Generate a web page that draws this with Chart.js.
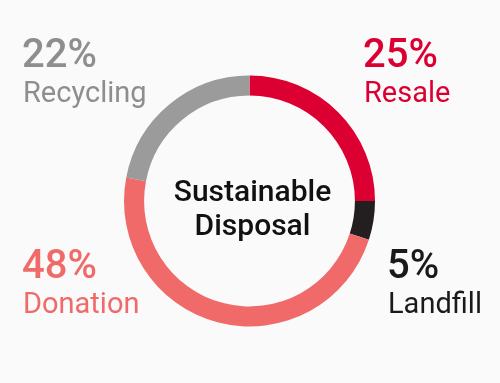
<!DOCTYPE html>
<html>
<head>
<meta charset="utf-8">
<script src="https://cdn.jsdelivr.net/npm/chart.js@4/dist/chart.umd.min.js"></script>
<style>
html,body{margin:0;padding:0;background:#fafafa;}
#wrap{width:500px;height:383px;position:relative;}
</style>
</head>
<body>
<div id="wrap"><canvas id="c" width="500" height="383"></canvas></div>
<script>
const categories = ["Resale", "Landfill", "Donation", "Recycling"];
const values = [25, 5, 48, 22];
const colors = ["#dc0032", "#231f20", "#f06a6a", "#9b9b9b"];
const textColors = ["#dc0032", "#1a1a1a", "#f06a6a", "#8e8e8e"];
const centerTitle = ["Sustainable", "Disposal"];

// label anchors (left x, baseline of percent line) per category
const labelPos = [
  {x: 363, y: 67},
  {x: 387, y: 278},
  {x: 22, y: 278},
  {x: 22, y: 67}
];

const labelPlugin = {
  id: 'labels',
  afterDraw(chart) {
    const ctx = chart.ctx;
    ctx.save();
    ctx.textAlign = 'left';
    ctx.textBaseline = 'alphabetic';
    categories.forEach((cat, i) => {
      const p = labelPos[i];
      ctx.fillStyle = textColors[i];
      ctx.font = '500 40px Roboto';
      ctx.fillText(values[i] + '%', p.x, p.y);
      ctx.font = '400 29px Roboto';
      ctx.fillText(cat, p.x + 1, p.y + 35);
    });
    const a = chart.chartArea;
    const cx = (a.left + a.right) / 2, cy = (a.top + a.bottom) / 2;
    ctx.fillStyle = '#111';
    ctx.textAlign = 'center';
    ctx.font = '500 30px Roboto';
    ctx.fillText(centerTitle[0], cx + 3, cy);
    ctx.fillText(centerTitle[1], cx + 3, cy + 34);
    ctx.restore();
  }
};

new Chart(document.getElementById('c'), {
  type: 'doughnut',
  data: {
    labels: categories,
    datasets: [{
      data: values,
      backgroundColor: colors,
      borderWidth: 0
    }]
  },
  options: {
    responsive: false,
    animation: false,
    cutout: '84%',
    layout: {padding: {top: 75, bottom: 56, left: 124, right: 125}},
    plugins: {legend: {display: false}, tooltip: {enabled: false}}
  },
  plugins: [labelPlugin]
});
</script>
</body>
</html>
